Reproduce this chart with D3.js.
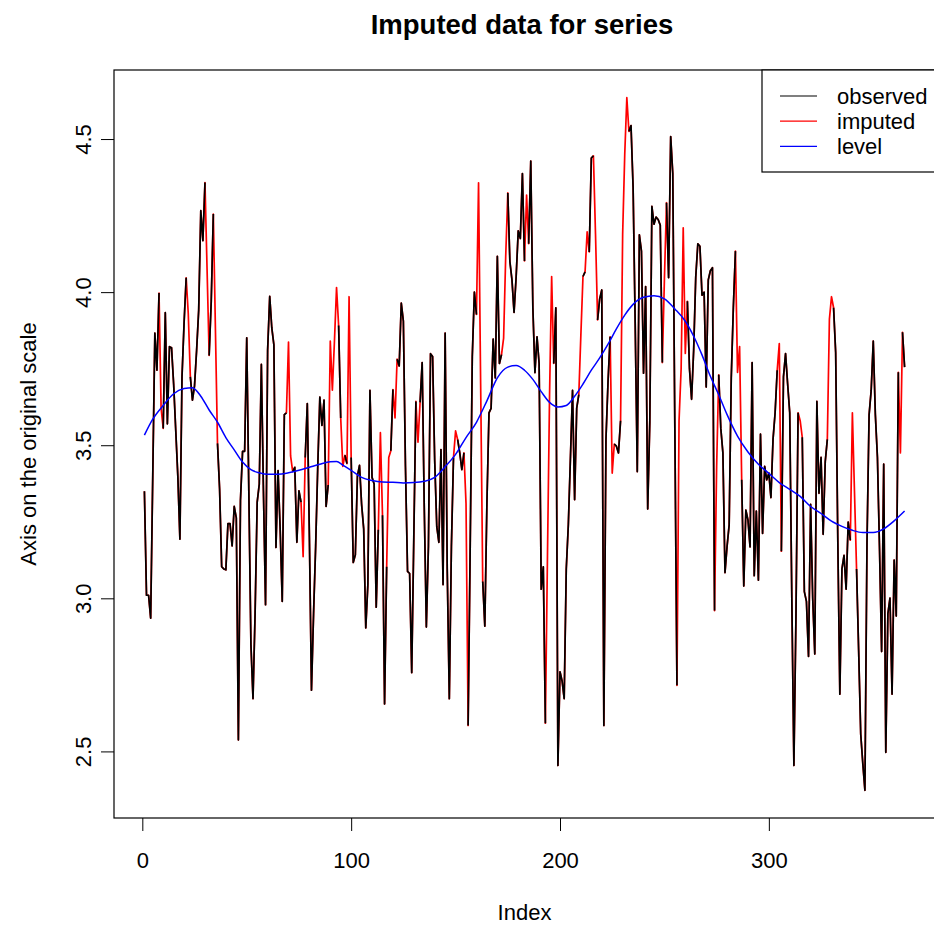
<!DOCTYPE html>
<html>
<head>
<meta charset="utf-8">
<script src="https://cdn.jsdelivr.net/npm/d3@7"></script>
<style>
    body { margin: 0; background: #ffffff; }
    svg text { font-family: "Liberation Sans", Arial, Helvetica, sans-serif; }
</style>
</head>
<body>
<div id="chart"></div>
<script>
// series values (index 1..365)
const seriesValues = [
    3.35, 3.01, 3.01, 2.935, 3.40, 3.866, 3.745, 3.997, 3.62, 3.555,
    3.933, 3.57, 3.822, 3.818, 3.70, 3.55, 3.40, 3.193, 3.723, 3.90,
    4.047, 3.93, 3.723, 3.647, 3.694, 3.81, 3.942, 4.266, 4.168, 4.358,
    4.076, 3.793, 3.97, 4.255, 3.88, 3.506, 3.358, 3.103, 3.096, 3.093,
    3.244, 3.244, 3.171, 3.30, 3.263, 2.538, 3.32, 3.48, 3.48, 3.851,
    3.35, 2.85, 2.672, 2.95, 3.314, 3.373, 3.764, 3.35, 2.979, 3.81,
    3.986, 3.883, 3.828, 3.166, 3.417, 3.227, 2.99, 3.60, 3.606, 3.837,
    3.465, 3.414, 3.428, 3.183, 3.351, 3.314, 3.136, 3.46, 3.636, 3.20,
    2.70, 2.95, 3.17, 3.43, 3.657, 3.565, 3.647, 3.30, 3.37, 3.84,
    3.68, 3.84, 4.015, 3.891, 3.589, 3.431, 3.467, 3.44, 3.985, 3.46,
    3.117, 3.142, 3.40, 3.434, 3.307, 3.227, 2.903, 3.045, 3.679, 3.395,
    3.373, 2.971, 3.224, 3.541, 3.271, 2.655, 3.103, 3.46, 3.482, 3.682,
    3.589, 3.781, 3.759, 3.964, 3.905, 3.431, 3.088, 3.081, 2.757, 3.20,
    3.643, 3.51, 3.64, 3.77, 3.30, 2.906, 3.17, 3.799, 3.79, 3.45,
    3.234, 3.183, 3.486, 3.045, 3.866, 3.096, 2.672, 3.17, 3.46, 3.547,
    3.518, 3.475, 3.42, 3.475, 3.31, 2.585, 3.17, 3.79, 4.0, 3.927,
    4.357, 3.70, 3.055, 2.909, 3.31, 3.606, 3.62, 3.847, 3.72, 4.117,
    3.767, 3.796, 3.85, 4.117, 4.324, 4.10, 4.04, 3.934, 4.05, 4.20,
    4.175, 4.387, 4.102, 4.317, 4.158, 4.428, 3.95, 3.737, 3.854, 3.767,
    3.03, 3.103, 2.592, 3.139, 3.665, 4.051, 3.767, 3.949, 2.454, 2.76,
    2.73, 2.672, 3.096, 3.242, 3.46, 3.679, 3.322, 3.621, 3.665, 3.862,
    4.051, 4.066, 4.197, 4.131, 4.438, 4.445, 4.19, 3.909, 3.978, 4.007,
    2.585, 3.519, 3.708, 3.854, 3.409, 3.504, 3.497, 3.475, 3.58, 4.19,
    4.45, 4.635, 4.525, 4.544, 4.343, 3.898, 3.414, 4.187, 4.134, 3.735,
    4.018, 3.292, 3.577, 4.28, 4.222, 4.245, 4.237, 4.219, 3.77, 4.044,
    4.292, 4.047, 4.508, 4.387, 3.55, 2.716, 3.58, 3.75, 4.21, 3.80,
    3.97, 3.75, 3.65, 3.81, 4.05, 4.158, 4.15, 3.99, 4.00, 3.69,
    4.04, 4.07, 4.08, 2.96, 3.43, 3.73, 3.555, 3.475, 3.084, 3.17,
    3.24, 3.72, 3.95, 4.134, 3.738, 3.822, 3.387, 3.04, 3.288, 3.256,
    3.168, 3.77, 3.074, 3.285, 3.059, 3.536, 3.212, 3.431, 3.387, 3.409,
    3.329, 3.519, 3.606, 3.745, 3.832, 3.154, 3.723, 3.799, 3.70, 3.606,
    3.0, 2.454, 2.95, 3.606, 3.58, 3.526, 3.022, 2.99, 2.81, 3.307,
    3.0, 2.818, 3.643, 3.343, 3.46, 3.209, 3.446, 3.519, 3.912, 3.985,
    3.949, 3.803, 3.2, 2.687, 3.096, 3.14, 3.03, 3.249, 3.19, 3.606,
    3.35, 3.096, 2.83, 2.556, 2.46, 2.373, 3.183, 3.599, 3.679, 3.84,
    3.60, 3.46, 3.161, 2.826, 3.438, 2.497, 2.95, 3.001, 2.687, 3.125,
    2.942, 3.738, 3.475, 3.869, 3.755
];

// indices (1-based) where the value was imputed
const imputedIndex = [
    9, 22, 31, 35, 70, 71, 77, 90, 91, 93, 96, 99, 114, 118, 121, 132,
    150, 155, 161, 162, 173, 174, 184, 194, 195, 196, 210, 213, 217, 225,
    230, 231, 232, 250, 257, 258, 260, 275, 285, 286, 305, 315, 329, 330,
    340, 341, 363
];

// smoothed level, read at these indices
const levelIndex = [
    1, 5, 10, 15, 20, 24, 28, 32, 36, 40, 44, 48, 52, 56, 60, 65, 70, 75, 80, 85,
    90, 93, 96, 100, 105, 110, 115, 120, 125, 130, 135, 140, 145, 150, 155, 160,
    165, 170, 175, 179, 183, 187, 191, 195, 199, 203, 207, 211, 215, 219, 223,
    227, 231, 235, 240, 245, 250, 255, 260, 264, 268, 272, 276, 280, 285, 290,
    295, 300, 305, 310, 315, 320, 325, 330, 335, 340, 345, 350, 355, 360, 365
];
const levelValues = [
    3.533, 3.585, 3.63, 3.668, 3.685, 3.688, 3.66, 3.615, 3.575, 3.525, 3.485, 3.445, 3.42, 3.41, 3.405, 3.405, 3.41, 3.418, 3.428, 3.438,
    3.446, 3.447, 3.435, 3.418, 3.395, 3.385, 3.38, 3.379, 3.377, 3.378, 3.382, 3.395, 3.43, 3.47, 3.525, 3.575,
    3.645, 3.72, 3.755, 3.76, 3.745, 3.715, 3.675, 3.64, 3.625, 3.63, 3.66, 3.70, 3.745, 3.785, 3.83,
    3.88, 3.925, 3.96, 3.983, 3.988, 3.978, 3.945, 3.905, 3.856, 3.795, 3.725, 3.665, 3.60, 3.53, 3.478,
    3.438, 3.408, 3.378, 3.356, 3.333, 3.30, 3.277, 3.252, 3.235, 3.222, 3.215, 3.215, 3.227, 3.253, 3.285
];

const xTickValues = [0, 100, 200, 300];
const yTickValues = [2.5, 3.0, 3.5, 4.0, 4.5];
const legendLabels = ["observed", "imputed", "level"];
const legendColors = ["black", "red", "blue"];
const titleText = "Imputed data for series";
const xLabel = "Index";
const yLabel = "Axis on the original scale";

class ImputationChart {
    constructor(parentElement) {
        this.parentElement = parentElement;
        this.processData();
        this.renderChart();
    }

    processData() {
        let vis = this;
        let missing = new Set(imputedIndex);

        vis.points = seriesValues.map((v, i) => ({
            index: i + 1,
            value: v,
            imputed: missing.has(i + 1)
        }));
        vis.level = levelIndex.map((d, i) => ({index: d, value: levelValues[i]}));
    }

    renderChart() {
        let vis = this;

        vis.width = 934;
        vis.height = 925;
        vis.box = {left: 114, right: 935, top: 70, bottom: 818};

        vis.svg = d3.select("#" + vis.parentElement).append("svg")
            .attr("width", vis.width)
            .attr("height", vis.height)
            .style("display", "block");

        vis.svg.append("rect")
            .attr("width", vis.width)
            .attr("height", vis.height)
            .attr("fill", "white");

        // R pads the data range by 4% on each side
        let xExt = d3.extent(vis.points, d => d.index);
        let xPad = (xExt[1] - xExt[0]) * 0.04;
        vis.x = d3.scaleLinear()
            .domain([xExt[0] - xPad, xExt[1] + xPad])
            .range([vis.box.left, vis.box.right]);

        let yExt = d3.extent(vis.points.map(d => d.value).concat(levelValues));
        let yPad = (yExt[1] - yExt[0]) * 0.04;
        vis.y = d3.scaleLinear()
            .domain([yExt[0] - yPad, yExt[1] + yPad])
            .range([vis.box.bottom, vis.box.top]);

        let line = d3.line()
            .x(d => vis.x(d.index))
            .y(d => vis.y(d.value));

        // imputed series underneath, observed on top (gaps show the red)
        vis.svg.append("path")
            .datum(vis.points)
            .attr("fill", "none")
            .attr("stroke", "red")
            .attr("stroke-width", 1.7)
            .attr("stroke-linejoin", "round")
            .attr("d", line);

        vis.svg.append("path")
            .datum(vis.points)
            .attr("fill", "none")
            .attr("stroke", "black")
            .attr("stroke-width", 1.7)
            .attr("stroke-linejoin", "round")
            .attr("d", line.defined(d => !d.imputed));

        vis.svg.append("path")
            .datum(vis.level)
            .attr("fill", "none")
            .attr("stroke", "blue")
            .attr("stroke-width", 1.5)
            .attr("d", d3.line()
                .x(d => vis.x(d.index))
                .y(d => vis.y(d.value))
                .curve(d3.curveMonotoneX));

        vis.drawAxes();
        vis.createLegend();
    }

    drawAxes() {
        let vis = this;

        let xAxis = vis.svg.append("g")
            .attr("transform", `translate(0, ${vis.box.bottom})`)
            .call(d3.axisBottom(vis.x)
                .tickValues(xTickValues)
                .tickSize(13)
                .tickPadding(0)
                .tickFormat(d3.format("d")));
        xAxis.select(".domain").remove();
        xAxis.selectAll("line").attr("stroke", "black");
        xAxis.selectAll("text")
            .attr("y", 42)
            .attr("dy", "0.35em")
            .attr("fill", "black")
            .style("font-size", "22px")
            .style("font-family", "Liberation Sans, Arial, sans-serif");

        let yAxis = vis.svg.append("g")
            .attr("transform", `translate(${vis.box.left}, 0)`)
            .call(d3.axisLeft(vis.y)
                .tickValues(yTickValues)
                .tickSize(13)
                .tickFormat(d3.format(".1f")));
        yAxis.select(".domain").remove();
        yAxis.selectAll("line").attr("stroke", "black");
        yAxis.selectAll("text")
            .attr("x", null)
            .attr("dy", "0.35em")
            .attr("transform", "translate(-31, 0) rotate(-90)")
            .attr("text-anchor", "middle")
            .attr("fill", "black")
            .style("font-size", "22px")
            .style("font-family", "Liberation Sans, Arial, sans-serif");

        // plot box
        vis.svg.append("rect")
            .attr("x", vis.box.left)
            .attr("y", vis.box.top)
            .attr("width", vis.box.right - vis.box.left)
            .attr("height", vis.box.bottom - vis.box.top)
            .attr("fill", "none")
            .attr("stroke", "black")
            .attr("stroke-width", 1.2);

        vis.svg.append("text")
            .attr("x", 522)
            .attr("y", 24)
            .attr("dy", "0.35em")
            .attr("text-anchor", "middle")
            .style("font-size", "27.5px")
            .style("font-weight", "bold")
            .text(titleText);

        vis.svg.append("text")
            .attr("x", (vis.box.left + vis.box.right) / 2)
            .attr("y", 912)
            .attr("dy", "0.35em")
            .attr("text-anchor", "middle")
            .style("font-size", "22px")
            .text(xLabel);

        vis.svg.append("text")
            .attr("transform", `translate(28, ${(vis.box.top + vis.box.bottom) / 2}) rotate(-90)`)
            .attr("dy", "0.35em")
            .attr("text-anchor", "middle")
            .style("font-size", "22px")
            .text(yLabel);
    }

    createLegend() {
        let vis = this;

        const legendSpacing = 25.2;

        let legend = vis.svg.append("g")
            .attr("class", "legend")
            .attr("transform", `translate(762, ${vis.box.top})`);

        legend.append("rect")
            .attr("width", vis.box.right - 762)
            .attr("height", 102)
            .attr("fill", "white")
            .attr("stroke", "black")
            .attr("stroke-width", 1.2);

        legendLabels.forEach((label, i) => {
            let item = legend.append("g")
                .attr("transform", `translate(0, ${26 + i * legendSpacing})`);

            item.append("line")
                .attr("x1", 18)
                .attr("x2", 55)
                .attr("stroke", legendColors[i])
                .attr("stroke-width", 1.2);

            item.append("text")
                .attr("x", 75)
                .attr("dy", "0.35em")
                .style("font-size", "22px")
                .text(label);
        });
    }
}

new ImputationChart("chart");
</script>
</body>
</html>
